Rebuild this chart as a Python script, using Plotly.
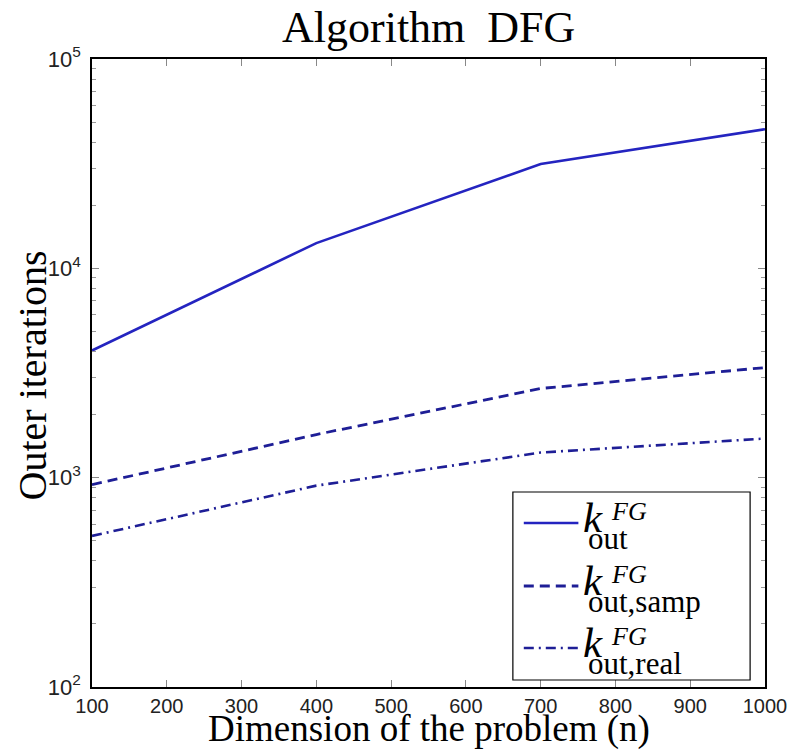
import plotly.graph_objects as go

# ---- data ----
n_values = [100, 400, 700, 1000]
k_out = [4050, 13200, 31500, 46200]
k_out_samp = [926, 1607, 2667, 3357]
k_out_real = [527, 916, 1318, 1538]

x_ticks = [100, 200, 300, 400, 500, 600, 700, 800, 900, 1000]
y_ticks = [1e2, 1e3, 1e4, 1e5]
y_ticktext = ["10<sup>2</sup>", "10<sup>3</sup>", "10<sup>4</sup>", "10<sup>5</sup>"]
y_minor = [m * 10 ** e for e in range(2, 5) for m in range(2, 10)]

series_names = ["k_out", "k_out_samp", "k_out_real"]
series_subs = ["out", "out,samp", "out,real"]

# ---- layout geometry ----
W, H = 799, 753
L, R, T, B = 92, 770, 59, 687


def px(x):
    return (x - L) / (R - L)


def py(y):
    return (B - y) / (B - T)


BLUE = "#2424c0"
NAVY = "#1e1e96"
styles = [
    dict(color=BLUE, width=2.6, dash="solid"),
    dict(color=NAVY, width=2.8, dash="10px,6px"),
    dict(color=NAVY, width=2.6, dash="10px,5px,2px,5px"),
]

fig = go.Figure()
for name, ys, st in zip(series_names, [k_out, k_out_samp, k_out_real], styles):
    fig.add_trace(go.Scatter(x=n_values, y=ys, mode="lines", name=name,
                             line=st, showlegend=False))

serif = "Liberation Serif"
sans = "Liberation Sans"

annotations = []
# title
annotations.append(dict(text="Algorithm  DFG", x=0.5, y=py(27), xref="paper", yref="paper",
                        showarrow=False, xanchor="center", yanchor="middle",
                        font=dict(family=serif, size=44, color="black")))
# x title
annotations.append(dict(text="Dimension of the problem (n)", x=0.5, y=py(729), xref="paper",
                        yref="paper", showarrow=False, xanchor="center", yanchor="middle",
                        font=dict(family=serif, size=37, color="black")))
# y title
annotations.append(dict(text="Outer iterations", x=px(32), y=py(375), xref="paper",
                        yref="paper", showarrow=False, xanchor="center", yanchor="middle",
                        textangle=-90, font=dict(family=serif, size=40, color="black")))

shapes = []
# legend box
shapes.append(dict(type="rect", xref="paper", yref="paper", x0=px(516), x1=px(755),
                   y0=py(680), y1=py(492), line=dict(color="black", width=1.2),
                   fillcolor="white", layer="above"))
rows = [523, 586, 648]
for yrow, st, sub in zip(rows, styles, series_subs):
    shapes.append(dict(type="line", xref="paper", yref="paper", x0=px(527), x1=px(582),
                       y0=py(yrow), y1=py(yrow),
                       line=dict(color=st["color"], width=st["width"], dash=st["dash"]),
                       layer="above"))
    annotations.append(dict(text="<i>k</i>", x=px(585), y=py(yrow - 6), xref="paper",
                            yref="paper", showarrow=False, xanchor="left", yanchor="middle",
                            font=dict(family=serif, size=43, color="black")))
    annotations.append(dict(text="<i>FG</i>", x=px(613), y=py(yrow - 12), xref="paper",
                            yref="paper", showarrow=False, xanchor="left", yanchor="middle",
                            font=dict(family=serif, size=26, color="black")))
    annotations.append(dict(text=sub, x=px(590), y=py(yrow + 15), xref="paper",
                            yref="paper", showarrow=False, xanchor="left", yanchor="middle",
                            font=dict(family=serif, size=31, color="black")))

fig.update_layout(
    width=W, height=H,
    margin=dict(l=L, r=W - R, t=T, b=H - B),
    paper_bgcolor="white", plot_bgcolor="white",
    annotations=annotations, shapes=shapes,
    showlegend=False,
)

fig.update_xaxes(
    range=[100, 1000], tickvals=x_ticks, ticktext=[str(v) for v in x_ticks],
    ticks="inside", ticklen=7, tickwidth=1, tickcolor="#888888",
    showline=True, linecolor="black", linewidth=1.6, mirror="ticks",
    showgrid=False, zeroline=False, ticklabelstandoff=0,
    tickfont=dict(family=sans, size=20, color="#222222"),
)
fig.update_yaxes(
    type="log", range=[2, 5], tickvals=y_ticks, ticktext=y_ticktext,
    ticks="inside", ticklen=7, tickwidth=1, tickcolor="#888888",
    minor=dict(tickvals=y_minor, ticks="inside", ticklen=4, tickcolor="#999999", showgrid=False),
    showline=True, linecolor="black", linewidth=1.6, mirror="ticks",
    showgrid=False, zeroline=False, ticklabelstandoff=5,
    tickfont=dict(family=sans, size=22, color="#222222"),
)

fig.write_html("out.html")
